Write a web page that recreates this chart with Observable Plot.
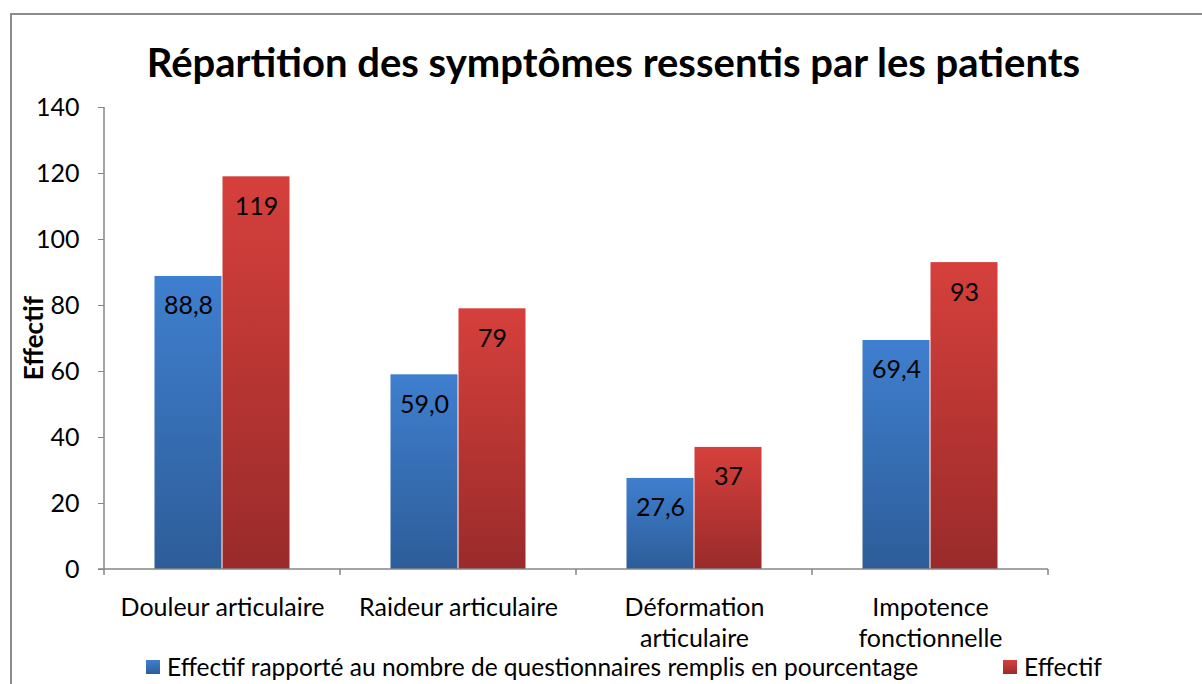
<!DOCTYPE html>
<html>
<head>
<meta charset="utf-8">
<script src="https://cdn.jsdelivr.net/npm/d3@7"></script>
<script src="https://cdn.jsdelivr.net/npm/@observablehq/plot@0.6"></script>
<style>
  body { margin: 0; background: #fff; }
  #wrap { position: relative; width: 1202px; height: 684px; overflow: hidden; font-family: Lato, "Open Sans", sans-serif; color: #000; }
  .frame { position: absolute; left: 10px; top: 13px; width: 1300px; height: 800px; border-left: 2px solid #8c8c8c; border-top: 2px solid #8c8c8c; }
  .title { position: absolute; left: 0; width: 1227px; top: 37px; text-align: center; font-weight: bold; font-size: 40px; line-height: 50px; white-space: nowrap; }
  .ylabel { position: absolute; left: 33px; top: 338px; transform: translate(-50%, -50%) rotate(-90deg); font-weight: bold; font-size: 26px; white-space: nowrap; }
  #chart { position: absolute; left: 0; top: 90px; }
  .legend { position: absolute; top: 653px; left: 0; width: 1202px; height: 30px; font-size: 24.5px; }
  .legend .item { position: absolute; top: 0; display: flex; align-items: center; white-space: nowrap; line-height: 28px; }
  .legend .sw { width: 14px; height: 14px; margin-right: 7px; }
</style>
</head>
<body>
<div id="wrap">
  <div class="frame"></div>
  <div class="title">Répartition des symptômes ressentis par les patients</div>
  <div class="ylabel">Effectif</div>
  <div id="chart"></div>
  <div class="legend" id="legend"></div>
</div>
<script>
const categories = ["Douleur articulaire", "Raideur articulaire", "Déformation articulaire", "Impotence fonctionnelle"];
const categoryLabels = ["Douleur articulaire", "Raideur articulaire", "Déformation\narticulaire", "Impotence\nfonctionnelle"];
const seriesNames = ["Effectif rapporté au nombre de questionnaires remplis en pourcentage", "Effectif"];
const pourcentage = [88.8, 59.0, 27.6, 69.4];
const effectif = [119, 79, 37, 93];
const yTicks = [0, 20, 40, 60, 80, 100, 120, 140];
const gradientStops = [["gBlue", "#3f7fcf", "#2d5d99"], ["gRed", "#d6403c", "#992b2a"]];

const rows = categories.flatMap((c, i) => [
  {category: c, series: seriesNames[0], value: pourcentage[i], label: pourcentage[i].toFixed(1).replace(".", ",")},
  {category: c, series: seriesNames[1], value: effectif[i], label: String(effectif[i])}
]);

const FONT = 'Lato, "Open Sans", sans-serif';

const plot = Plot.plot({
  width: 1202,
  height: 560,
  marginTop: 17,
  marginBottom: 81,
  marginLeft: 102,
  marginRight: 153,
  style: {fontFamily: FONT, fontSize: "25px", color: "#000", background: "transparent", overflow: "visible"},
  fx: {domain: categories, padding: 0, label: null, axis: null},
  x: {domain: seriesNames, paddingInner: 0, paddingOuter: 0.73, axis: null},
  y: {domain: [0, 140], label: null},
  color: {domain: seriesNames, range: gradientStops.map(g => `url(#${g[0]})`)},
  marks: [
    Plot.axisY({ticks: yTicks, tickSize: 6, tickPadding: 19, stroke: "#868686", fill: "#000", label: null, fontSize: 25}),
    Plot.axisFx({anchor: "bottom", tickSize: 0, tickPadding: 24, label: null, fill: "#000", fontSize: 25, lineHeight: 1.24,
      tickFormat: d => categoryLabels[categories.indexOf(d)]}),
    Plot.barY(rows, {fx: "category", x: "series", y: "value", fill: "series", insetLeft: 0.5, insetRight: 0.5}),
    Plot.text(rows, {fx: "category", x: "series", y: "value", text: "label", dy: 30, fontSize: 25, fill: "#000"})
  ]
});

// gradients for bars
const svg = d3.select(plot.tagName.toLowerCase() === "svg" ? plot : plot.querySelector("svg"));
const defs = svg.insert("defs", ":first-child");
gradientStops.forEach(([id, top, bottom]) => {
  const g = defs.append("linearGradient").attr("id", id).attr("x1", 0).attr("y1", 0).attr("x2", 0).attr("y2", 1);
  g.append("stop").attr("offset", "0%").attr("stop-color", top);
  g.append("stop").attr("offset", "100%").attr("stop-color", bottom);
});

// axis lines and category boundary ticks from the plot's own scales
const fxS = plot.scale("fx");
const yS = plot.scale("y");
const y0 = yS.apply(0), yTop = yS.apply(140);
const xLeft = fxS.apply(categories[0]);
const xRight = fxS.apply(categories[categories.length - 1]) + fxS.bandwidth;
const ax = svg.append("g").attr("stroke", "#868686").attr("stroke-width", 1.5);
ax.append("line").attr("x1", xLeft).attr("x2", xLeft).attr("y1", yTop).attr("y2", y0);
ax.append("line").attr("x1", xLeft - 6).attr("x2", xRight).attr("y1", y0).attr("y2", y0);
categories.concat([null]).forEach(c => {
  const x = c === null ? xRight : fxS.apply(c);
  ax.append("line").attr("x1", x).attr("x2", x).attr("y1", y0).attr("y2", y0 + 6);
});

document.getElementById("chart").appendChild(plot);

// legend
const legend = document.getElementById("legend");
const legendPos = [146, 1003];
seriesNames.forEach((s, i) => {
  const item = document.createElement("div");
  item.className = "item";
  item.style.left = legendPos[i] + "px";
  item.innerHTML = `<div class="sw" style="background:linear-gradient(${gradientStops[i][1]},${gradientStops[i][2]})"></div><span>${s}</span>`;
  legend.appendChild(item);
});
</script>
</body>
</html>
